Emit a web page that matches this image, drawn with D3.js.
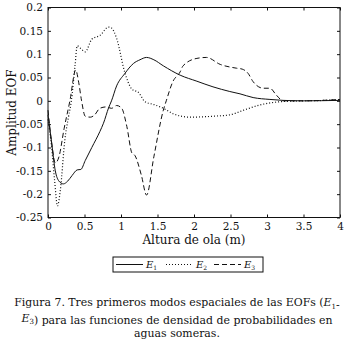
<!DOCTYPE html>
<html>
<head>
<meta charset="utf-8">
<script src="https://cdn.jsdelivr.net/npm/d3@7"></script>
<style>
  body { margin: 0; background: #fff; }
  svg { display: block; }
  text { font-family: "DejaVu Serif", "Liberation Serif", serif; fill: #111; }
</style>
</head>
<body>
<div id="vis"></div>
<script>
// axis ticks
var xTicks = [0, 0.5, 1, 1.5, 2, 2.5, 3, 3.5, 4];
var yTicks = [0.2, 0.15, 0.1, 0.05, 0, -0.05, -0.1, -0.15, -0.2, -0.25];

// series: [altura (m), amplitud]
var e1 = [[0,-0.03],[0.05,-0.09],[0.1,-0.15],[0.15,-0.172],[0.21,-0.178],[0.27,-0.172],
  [0.33,-0.16],[0.4,-0.148],[0.45,-0.147],[0.51,-0.128],[0.6,-0.1],[0.71,-0.066],
  [0.76,-0.048],[0.83,-0.015],[0.87,0],[0.94,0.032],[1.05,0.058],[1.17,0.08],
  [1.26,0.088],[1.35,0.093],[1.45,0.088],[1.58,0.075],[1.81,0.055],[2.04,0.042],
  [2.26,0.030],[2.49,0.020],[2.63,0.015],[2.81,0.007],[3.04,0.003],[3.22,0.001],
  [3.5,0],[4,0.001]];

var e2 = [[0,-0.04],[0.05,-0.1],[0.09,-0.17],[0.13,-0.225],[0.17,-0.19],[0.23,-0.085],
  [0.28,-0.035],[0.32,0],[0.37,0.075],[0.4,0.118],[0.45,0.112],[0.51,0.105],
  [0.6,0.132],[0.71,0.14],[0.83,0.158],[0.87,0.156],[0.94,0.134],[1.05,0.062],
  [1.15,0.025],[1.24,0.018],[1.33,-0.002],[1.45,-0.008],[1.58,-0.016],[1.72,-0.028],
  [1.95,-0.035],[2.26,-0.033],[2.49,-0.03],[2.68,-0.02],[2.9,-0.009],[3.18,-0.002],
  [3.5,0],[3.8,0.001],[4,0.003]];

var e3 = [[0,-0.02],[0.05,-0.09],[0.1,-0.133],[0.15,-0.12],[0.22,-0.06],[0.3,0],
  [0.38,0.066],[0.42,0.04],[0.46,0],[0.51,-0.033],[0.58,-0.035],[0.64,-0.03],
  [0.71,-0.016],[0.8,-0.013],[0.87,-0.016],[0.94,-0.01],[1.01,-0.016],[1.08,-0.055],
  [1.15,-0.112],[1.19,-0.117],[1.28,-0.16],[1.35,-0.202],[1.45,-0.12],[1.58,-0.02],
  [1.62,0],[1.71,0.041],[1.81,0.062],[1.85,0.075],[2.04,0.091],[2.17,0.093],
  [2.36,0.078],[2.58,0.07],[2.66,0.068],[2.74,0.059],[2.81,0.041],[2.95,0.027],
  [3.04,0.027],[3.13,0.012],[3.22,0],[3.5,0],[4,0.003]];

var seriesNames = ['1', '2', '3'];
var dashes = [null, '1,2', '5,3'];

var width = 354, height = 349;
var plotLeft = 48, plotRight = 340, plotTop = 7.5, plotBottom = 217.5;

var svg = d3.select('#vis').append('svg')
  .attr('width', width)
  .attr('height', height);

var x = d3.scaleLinear().domain([0, 4]).range([plotLeft, plotRight]);
var y = d3.scaleLinear().domain([-0.25, 0.2]).range([plotBottom, plotTop]);

function fmt(d) { return String(+d.toFixed(2)); }

// axes: ticks inward on all four sides
var tickLen = 3;
svg.append('g').attr('transform', 'translate(0,' + plotBottom + ')')
  .call(d3.axisBottom(x).tickValues(xTicks).tickSizeInner(-tickLen).tickSizeOuter(0).tickPadding(5).tickFormat(fmt));
svg.append('g').attr('transform', 'translate(0,' + plotTop + ')')
  .call(d3.axisTop(x).tickValues(xTicks).tickSizeInner(-tickLen).tickSizeOuter(0).tickFormat(''));
svg.append('g').attr('transform', 'translate(' + plotLeft + ',0)')
  .call(d3.axisLeft(y).tickValues(yTicks).tickSizeInner(-tickLen).tickSizeOuter(0).tickPadding(5).tickFormat(fmt));
svg.append('g').attr('transform', 'translate(' + plotRight + ',0)')
  .call(d3.axisRight(y).tickValues(yTicks).tickSizeInner(-tickLen).tickSizeOuter(0).tickFormat(''));

svg.selectAll('.domain').remove();
svg.selectAll('.tick line').attr('stroke', '#111');
svg.selectAll('.tick text')
  .style('font-family', '"DejaVu Serif", serif')
  .style('font-size', '10.5px')
  .attr('fill', '#111');

// frame
svg.append('rect')
  .attr('x', plotLeft).attr('y', plotTop)
  .attr('width', plotRight - plotLeft).attr('height', plotBottom - plotTop)
  .attr('fill', 'none').attr('stroke', '#111').attr('stroke-width', 1);

// curves
var line = d3.line()
  .x(function (d) { return x(d[0]); })
  .y(function (d) { return y(d[1]); })
  .curve(d3.curveMonotoneX);

[e1, e2, e3].forEach(function (s, i) {
  svg.append('path')
    .datum(s)
    .attr('d', line)
    .attr('fill', 'none')
    .attr('stroke', '#111')
    .attr('stroke-width', i === 1 ? 1.2 : 1)
    .attr('stroke-dasharray', dashes[i]);
});

// axis titles
svg.append('text')
  .attr('x', (plotLeft + plotRight) / 2).attr('y', 244)
  .attr('text-anchor', 'middle')
  .style('font-size', '12px')
  .text('Altura de ola (m)');

svg.append('text')
  .attr('transform', 'translate(16,' + ((plotTop + plotBottom) / 2) + ') rotate(-90)')
  .attr('text-anchor', 'middle')
  .style('font-size', '12px')
  .text('Amplitud EOF');

// legend
var legend = svg.append('g');
legend.append('rect')
  .attr('x', 113).attr('y', 257).attr('width', 150).attr('height', 15)
  .attr('fill', 'none').attr('stroke', '#111').attr('stroke-width', 1);

var legX = [116, 166, 214];
seriesNames.forEach(function (n, i) {
  legend.append('line')
    .attr('x1', legX[i]).attr('x2', legX[i] + 27)
    .attr('y1', 264.5).attr('y2', 264.5)
    .attr('stroke', '#111')
    .attr('stroke-width', i === 1 ? 1.2 : 1)
    .attr('stroke-dasharray', dashes[i]);
  var t = legend.append('text')
    .attr('x', legX[i] + 30).attr('y', 268)
    .style('font-size', '10px');
  t.append('tspan').style('font-style', 'italic').text('E');
  t.append('tspan').attr('dy', 2).style('font-size', '6px').text(n);
});

// caption
var cap = svg.append('g');
function subE(t, n) {
  t.append('tspan').style('font-style', 'italic').text('E');
  t.append('tspan').attr('dy', 2.5).style('font-size', '0.65em').text(n);
  t.append('tspan').attr('dy', -2.5).text('');
}
var l1 = cap.append('text').attr('x', 177).attr('y', 306).attr('text-anchor', 'middle');
l1.append('tspan').text('Figura 7. Tres primeros modos espaciales de las EOFs (');
subE(l1, '1');
l1.append('tspan').text('-');

var l2 = cap.append('text').attr('x', 177).attr('y', 321.5).attr('text-anchor', 'middle');
subE(l2, '3');
l2.append('tspan').text(') para las funciones de densidad de probabilidades en');

var l3 = cap.append('text').attr('x', 177).attr('y', 337).attr('text-anchor', 'middle')
  .text('aguas someras.');

// fit caption font so the first line spans about 326px
cap.selectAll('text').style('font-size', '12px');
var w = l1.node().getComputedTextLength();
var fs = 12 * 326 / w;
cap.selectAll('text').style('font-size', fs.toFixed(2) + 'px');
</script>
</body>
</html>
